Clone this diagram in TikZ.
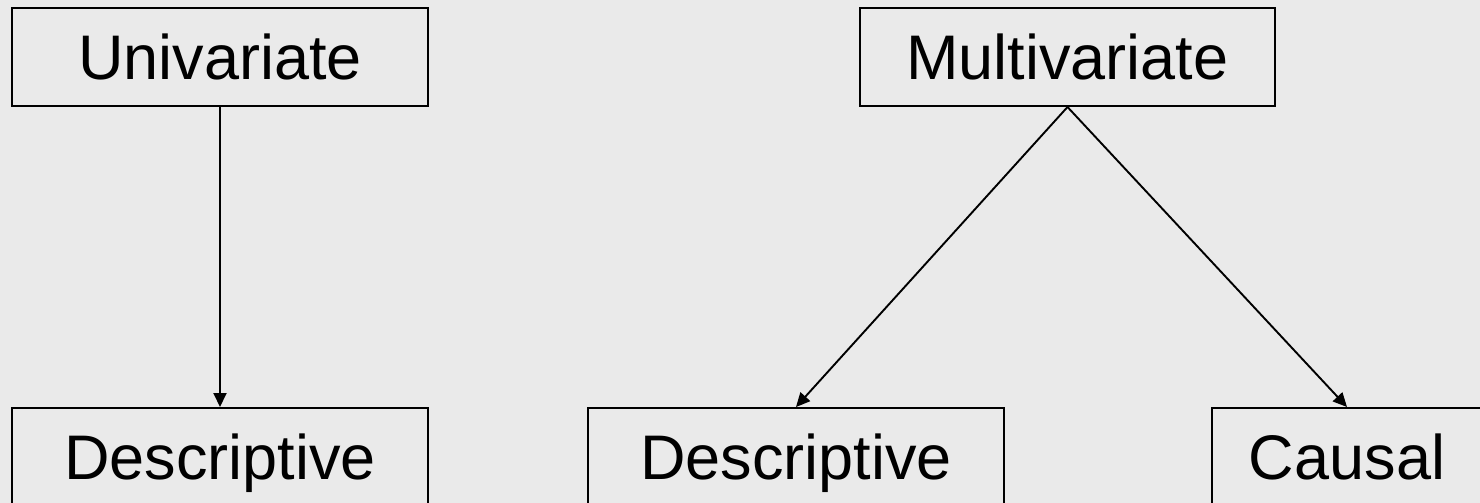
\documentclass[tikz,border=0pt]{standalone}
\usepackage{fontspec}
\setmainfont{Liberation Sans}
\usetikzlibrary{arrows.meta}
\definecolor{bgc}{HTML}{EAEAEA}
\begin{document}
\begin{tikzpicture}[x=1pt,y=-1pt,
  box/.style={draw=black,line width=2pt,rectangle,minimum height=98pt,inner sep=0pt,
    text height=44pt,text depth=0pt,font=\fontsize{63}{70}\selectfont},
  conn/.style={draw=black,line width=1.9pt,-{Triangle[length=14pt,width=13pt]}}]
\useasboundingbox (0,0) rectangle (1480,503);
\fill[bgc] (0,0) rectangle (1480,503);
\clip (0,0) rectangle (1480,503);
\node[box,minimum width=416pt] (uni) at (220,57) {Univariate};
\node[box,minimum width=415pt] (multi) at (1067.5,57) {Multivariate};
\node[box,minimum width=416pt] (descL) at (220,457) {Descriptive};
\node[box,minimum width=416pt] (descM) at (796,457) {Descriptive};
\node[box,minimum width=270pt] (causal) at (1347,457) {Causal};
\draw[conn] (uni.south) -- (descL.north);
\draw[conn] (multi.south) -- (descM.north);
\draw[conn] (multi.south) -- (causal.north);
\end{tikzpicture}
\end{document}
